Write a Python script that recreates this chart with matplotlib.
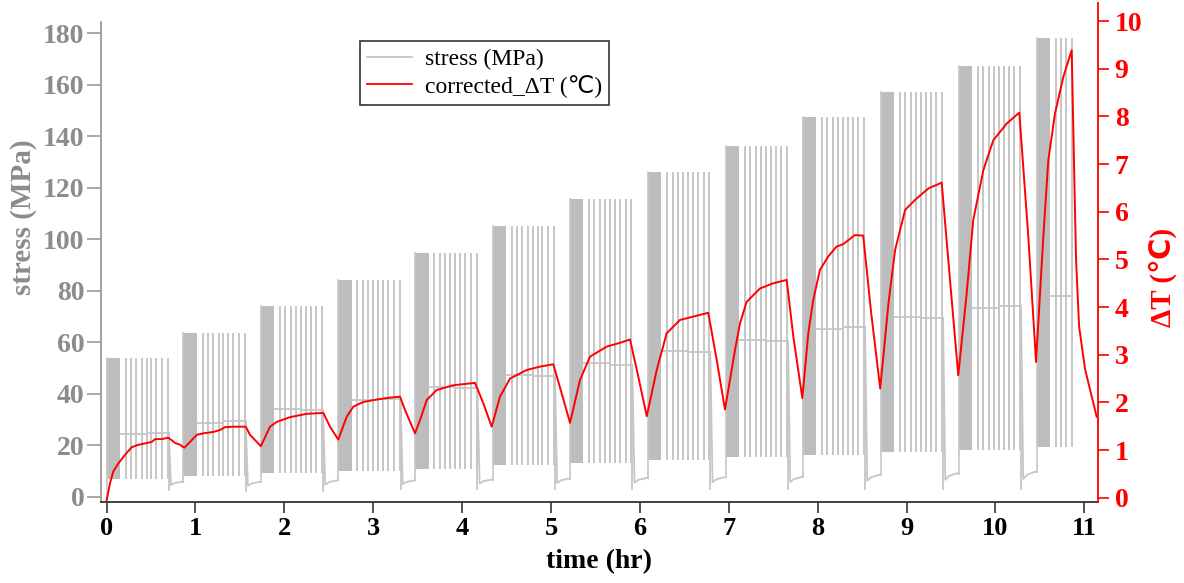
import matplotlib
matplotlib.use("Agg")
import matplotlib.pyplot as plt
from matplotlib.lines import Line2D

# ---------------- data ----------------
# loading stages (hr): start of each stress block
stage_start = [0.0, 0.865, 1.735, 2.607, 3.472, 4.344, 5.214, 6.092, 6.966,
               7.832, 8.710, 9.587, 10.462]
stage_peak = [53.7, 63.7, 74.2, 84.2, 94.5, 105.1, 115.5, 126.2, 136.3,
              147.3, 157.3, 167.4, 178.3]
stage_valley = [6.8, 8.0, 9.1, 9.9, 10.8, 12.3, 13.2, 14.3, 15.4, 16.2,
                17.2, 18.1, 19.4]
hold_mean_a = [24.2, 28.5, 33.9, 37.4, 42.5, 47.3, 51.8, 56.6, 60.9, 65.0,
               69.9, 73.2, 77.9]
hold_mean_b = [24.8, 29.2, 33.5, 38.1, 42.2, 47.0, 51.3, 56.2, 60.3, 66.0,
               69.2, 74.2, 77.9]
unload_low = [2.6, 2.2, 2.2, 2.8, 2.8, 2.8, 2.8, 2.8, 2.9, 2.9, 2.9, 2.9]
unload_high = [5.8, 5.7, 6.3, 6.3, 6.6, 7.0, 7.2, 7.5, 7.6, 8.4, 9.0, 9.6]
block_len = 0.15                      # dense cycling block duration (hr)
spike_offsets = [0.215, 0.275, 0.335, 0.395, 0.45, 0.505, 0.56, 0.625, 0.69]
last_stage_spikes = 4
drop_offset = 0.70
ramp_dt = [0.0, 0.025, 0.07, 0.15]
ramp_frac = [0.0, 0.6, 0.85, 1.0]

# corrected delta T (deg C)
dT_time = [0.002, 0.039, 0.076, 0.133, 0.208, 0.283, 0.358, 0.433, 0.508, 0.546,
           0.621, 0.695, 0.771, 0.827, 0.875, 0.939, 1.015, 1.089, 1.201, 1.277,
           1.333, 1.426, 1.566, 1.614, 1.670, 1.736, 1.839, 1.914, 2.064, 2.252,
           2.439, 2.514, 2.607, 2.702, 2.776, 2.889, 3.039, 3.189, 3.301, 3.358,
           3.470, 3.527, 3.602, 3.714, 3.901, 4.052, 4.145, 4.239, 4.333, 4.426,
           4.539, 4.727, 4.876, 5.026, 5.120, 5.214, 5.326, 5.439, 5.626, 5.776,
           5.889, 5.982, 6.077, 6.189, 6.301, 6.451, 6.601, 6.769, 6.864, 6.957,
           7.070, 7.126, 7.201, 7.351, 7.501, 7.651, 7.726, 7.827, 7.894, 7.950,
           8.025, 8.118, 8.212, 8.287, 8.418, 8.512, 8.600, 8.703, 8.796, 8.871,
           8.984, 9.096, 9.246, 9.395, 9.488, 9.581, 9.676, 9.750, 9.863, 9.975,
           10.126, 10.268, 10.369, 10.456, 10.538, 10.594, 10.669, 10.763, 10.857,
           10.889, 10.906, 10.940, 11.007, 11.138]
dT_value = [-0.05, 0.30, 0.55, 0.72, 0.90, 1.06, 1.11, 1.14, 1.17, 1.23,
            1.23, 1.26, 1.15, 1.11, 1.05, 1.17, 1.32, 1.35, 1.38, 1.42,
            1.48, 1.49, 1.49, 1.32, 1.21, 1.08, 1.49, 1.59, 1.69, 1.76,
            1.78, 1.49, 1.22, 1.70, 1.91, 2.01, 2.06, 2.10, 2.12, 1.84,
            1.35, 1.63, 2.05, 2.26, 2.36, 2.39, 2.41, 1.98, 1.49, 2.12,
            2.50, 2.68, 2.75, 2.80, 2.19, 1.57, 2.47, 2.96, 3.17, 3.25,
            3.32, 2.54, 1.71, 2.68, 3.45, 3.73, 3.80, 3.88, 2.89, 1.85,
            3.10, 3.66, 4.11, 4.39, 4.50, 4.57, 3.38, 2.09, 3.45, 4.15,
            4.78, 5.06, 5.27, 5.32, 5.51, 5.50, 3.90, 2.29, 4.08, 5.20,
            6.04, 6.25, 6.49, 6.61, 4.57, 2.57, 4.29, 5.83, 6.87, 7.50,
            7.85, 8.08, 5.48, 2.85, 5.48, 7.08, 8.06, 8.83, 9.39,
            6.50, 5.00, 3.60, 2.70, 1.70]

x_ticks = list(range(0, 12))
stress_ticks = list(range(0, 181, 20))
dT_ticks = list(range(0, 11))

# ---------------- style ----------------
SERIF = ["Liberation Serif", "DejaVu Serif"]
plt.rcParams["font.family"] = SERIF
GRAY_TXT = "#8c8c8c"
BLOCK = "#bdbdbd"
LINE = "#c6c6c6"
RED = "#ff0000"

fig = plt.figure(figsize=(11.84, 5.83), dpi=100)
ax = fig.add_axes([101 / 1184, 81 / 583, 997 / 1184, 499 / 583])
ax2 = ax.twinx()

# ---------------- stress ----------------
n = len(stage_start)
prev_level = 0.0
for i in range(n):
    s = stage_start[i]
    pk, vl = stage_peak[i], stage_valley[i]
    ax.fill_between([s, s + block_len], [vl, vl], [pk, pk], color=BLOCK,
                    lw=0, zorder=2)
    ax.plot([s, s], [prev_level, pk], color=LINE, lw=1.2, zorder=2)
    offs = spike_offsets if i < n - 1 else spike_offsets[:last_stage_spikes]
    end = s + offs[-1]
    mid = s + 0.45
    ax.plot([s + block_len, min(mid, end), min(mid, end), end],
            [hold_mean_a[i], hold_mean_a[i], hold_mean_b[i], hold_mean_b[i]],
            color=LINE, lw=1.3, zorder=2)
    ax.vlines([s + o for o in offs], vl, pk, color=LINE, lw=1.4, zorder=2)
    if i < n - 1:
        d = s + drop_offset
        lo, hi = unload_low[i], unload_high[i]
        ax.plot([d] + [d + r for r in ramp_dt[1:]] + [stage_start[i + 1]],
                [hold_mean_b[i]] + [lo + f * (hi - lo) for f in ramp_frac[1:]] + [hi],
                color=LINE, lw=1.3, zorder=2)
        ax.plot([d, d], [hold_mean_b[i], lo], color=LINE, lw=1.3, zorder=2)
        prev_level = hi

# ---------------- delta T ----------------
ax2.plot(dT_time, dT_value, color=RED, lw=1.4, zorder=3)

# ---------------- axes ----------------
ax.set_xlim(-0.062, 11.153)
ax.set_ylim(-2.06, 191.7)
ax2.set_ylim(-0.09, 10.38)

ax.set_xticks(x_ticks)
ax.set_yticks(stress_ticks)
ax2.set_yticks(dT_ticks)

for a in (ax, ax2):
    a.spines["top"].set_visible(False)
ax.spines["right"].set_visible(False)
ax.spines["left"].set_color("#9a9a9a")
ax.spines["left"].set_linewidth(1.3)
ax.spines["left"].set_bounds(-2.06, 184.5)
ax.spines["bottom"].set_color("#333333")
ax.spines["bottom"].set_linewidth(1.3)
ax2.spines["left"].set_visible(False)
ax2.spines["bottom"].set_visible(False)
ax2.spines["right"].set_color(RED)
ax2.spines["right"].set_linewidth(1.3)

ax.tick_params(axis="x", direction="out", length=8, width=1.2, colors="#333333",
               labelcolor="black", labelsize=19, pad=3)
ax.tick_params(axis="y", direction="out", length=10, width=1.2, colors="#9a9a9a",
               labelcolor=GRAY_TXT, labelsize=20, pad=2)
ax2.tick_params(axis="y", direction="out", length=8, width=1.2, colors=RED,
                labelcolor=RED, labelsize=20, pad=4)
for lab in ax.get_xticklabels() + ax.get_yticklabels() + ax2.get_yticklabels():
    lab.set_fontweight("bold")

ax.set_xlabel("time (hr)", fontsize=20, fontweight="bold", color="black")
ax.xaxis.set_label_coords(0.5, -0.095)
ax.set_ylabel("stress (MPa)", fontsize=21, fontweight="bold", color=GRAY_TXT)
ax.yaxis.set_label_coords(-0.064, 0.57)
ax2.set_ylabel("ΔT (℃)", fontsize=21, fontweight="bold", color=RED,
               family=["Liberation Serif", "DejaVu Sans"])
ax2.yaxis.set_label_coords(1.051, 0.45)

handles = [Line2D([], [], color=LINE, lw=1.3), Line2D([], [], color=RED, lw=1.3)]
leg = ax2.legend(handles, ["stress (MPa)", "corrected_ΔT (℃)"],
                 loc="upper left", bbox_to_anchor=(0.26, 0.923),
                 borderaxespad=0, fancybox=False, framealpha=1,
                 edgecolor="#333333", handlelength=1.9, handletextpad=0.55,
                 borderpad=0.3, labelspacing=0.2,
                 prop={"family": ["Liberation Serif", "DejaVu Sans"], "size": 17})
leg.get_frame().set_linewidth(1.2)

fig.savefig("out.png", dpi=100)
